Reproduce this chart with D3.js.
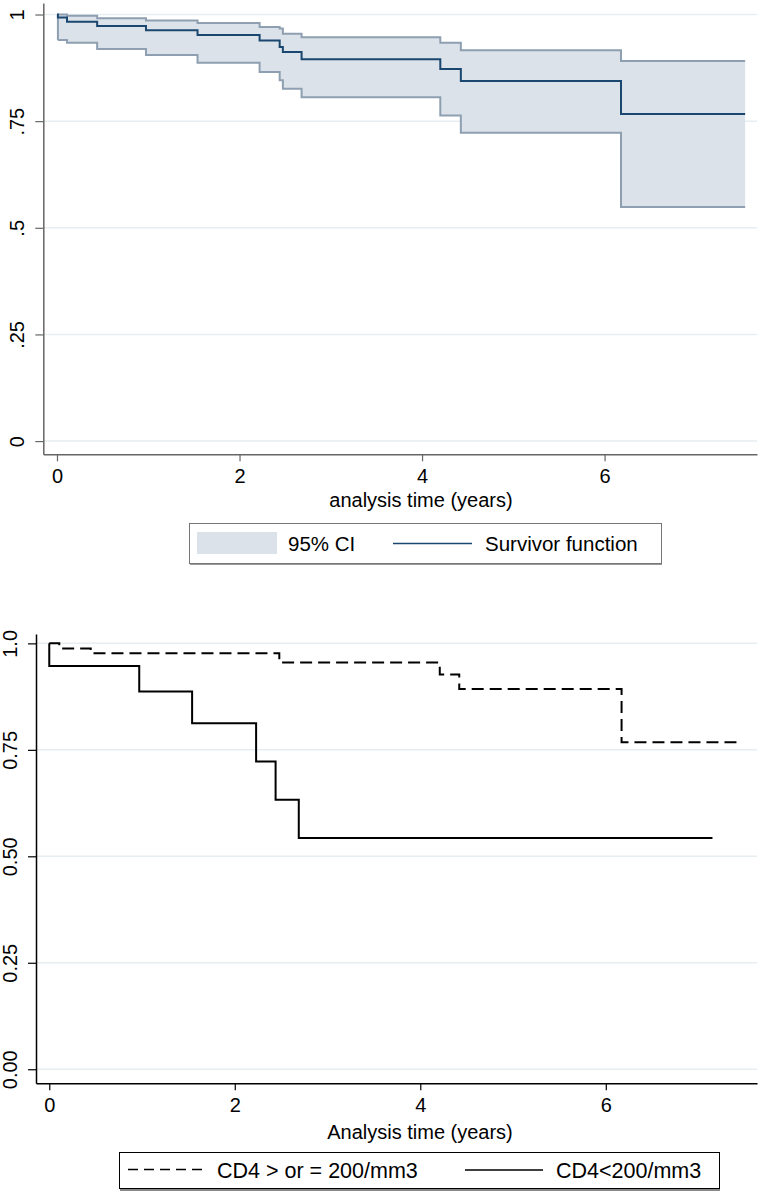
<!DOCTYPE html>
<html>
<head>
<meta charset="utf-8">
<script src="https://cdn.jsdelivr.net/npm/d3@7"></script>
<style>
  html, body { margin: 0; padding: 0; background: #fff; }
  svg { display: block; font-family: "Liberation Sans", Arial, sans-serif; }
</style>
</head>
<body>
<svg id="chart" width="761" height="1193"></svg>
<script>
// ---------- Top chart: overall Kaplan-Meier with 95% CI ----------
const survTimes = [0, 0.01, 0.11, 0.44, 0.975, 1.54, 2.22, 2.44, 2.475, 2.68, 4.20, 4.425, 6.18];
const survValues = [1, 0.993, 0.983, 0.973, 0.963, 0.952, 0.939, 0.924, 0.912, 0.895, 0.872, 0.844, 0.767];
const ciTimes = [0.01, 0.11, 0.44, 0.975, 1.54, 2.22, 2.44, 2.475, 2.68, 4.20, 4.425, 6.18];
const ciUpper = [1.0, 0.997, 0.991, 0.986, 0.980, 0.971, 0.967, 0.955, 0.947, 0.934, 0.916, 0.891];
const ciLower = [0.94, 0.934, 0.919, 0.905, 0.887, 0.865, 0.846, 0.826, 0.806, 0.763, 0.723, 0.549];
const survEnd = 7.54;
const topYTicks = [0, 0.25, 0.5, 0.75, 1];
const topYTickLabels = ["0", ".25", ".5", ".75", "1"];
const xTicks = [0, 2, 4, 6];
const topXTitle = "analysis time (years)";
const topLegend = ["95% CI", "Survivor function"];

// ---------- Bottom chart: by CD4 group ----------
const hiTimes = [0, 0.108, 0.447, 2.48, 4.21, 4.42, 6.17];
const hiValues = [1, 0.988, 0.977, 0.955, 0.927, 0.893, 0.768];
const hiEnd = 7.47;
const loTimes = [0, 0.0, 0.97, 1.54, 2.23, 2.44, 2.69];
const loValues = [1, 0.947, 0.887, 0.8125, 0.7225, 0.633, 0.543];
const loEnd = 7.15;
const botYTicks = [0, 0.25, 0.5, 0.75, 1];
const botYTickLabels = ["0.00", "0.25", "0.50", "0.75", "1.0"];
const botXTitle = "Analysis time (years)";
const botLegend = ["CD4 > or = 200/mm3", "CD4<200/mm3"];

const svg = d3.select("#chart");
const FONT = 20;
const FAM = "Liberation Sans, Arial, sans-serif";

function stepPoints(times, values, end) {
  const pts = times.map((t, i) => [t, values[i]]);
  pts.push([end, values[values.length - 1]]);
  return pts;
}

// ===== TOP =====
(function () {
  const x = d3.scaleLinear().domain([-0.15, 7.67]).range([43.3, 757]);
  const y = d3.scaleLinear().domain([-0.031, 1.027]).range([454.3, 3]);
  const g = svg.append("g");

  g.selectAll("line.grid").data(topYTicks).join("line")
    .attr("x1", x.range()[0]).attr("x2", x.range()[1])
    .attr("y1", d => y(d)).attr("y2", d => y(d))
    .attr("stroke", "#e6eef1").attr("stroke-width", 1.5);

  const band = ciTimes.map((t, i) => ({ t, lo: ciLower[i], hi: ciUpper[i] }));
  band.push({ t: survEnd, lo: ciLower[ciLower.length - 1], hi: ciUpper[ciUpper.length - 1] });
  g.append("path").datum(band)
    .attr("d", d3.area().curve(d3.curveStepAfter).x(d => x(d.t)).y0(d => y(d.lo)).y1(d => y(d.hi)))
    .attr("fill", "#dce2e9").attr("stroke", "none");
  const line = d3.line().curve(d3.curveStepAfter).x(d => x(d[0])).y(d => y(d[1]));
  g.append("path").datum(stepPoints(ciTimes, ciUpper, survEnd)).attr("d", line)
    .attr("fill", "none").attr("stroke", "#8d9fb1").attr("stroke-width", 2);
  g.append("path").datum(stepPoints(ciTimes, ciLower, survEnd)).attr("d", line)
    .attr("fill", "none").attr("stroke", "#8d9fb1").attr("stroke-width", 2);
  g.append("line").attr("x1", x(ciTimes[0])).attr("x2", x(ciTimes[0]))
    .attr("y1", y(ciUpper[0])).attr("y2", y(ciLower[0]))
    .attr("stroke", "#8d9fb1").attr("stroke-width", 2);
  g.append("path").datum(stepPoints(survTimes, survValues, survEnd)).attr("d", line)
    .attr("fill", "none").attr("stroke", "#1a476f").attr("stroke-width", 2);

  const ax = g.append("g").attr("transform", `translate(0,${y.range()[0]})`)
    .call(d3.axisBottom(x).tickValues(xTicks).tickFormat(d3.format("d")).tickSize(7).tickSizeOuter(0).tickPadding(8));
  ax.select(".domain").attr("stroke", "#666").attr("stroke-width", 1.5);
  ax.selectAll(".tick line").attr("stroke", "#666").attr("stroke-width", 1.2);
  ax.selectAll(".tick text").attr("font-size", FONT).attr("fill", "#000").attr("font-family", FAM);

  const ay = g.append("g").attr("transform", `translate(${x.range()[0]},0)`)
    .call(d3.axisLeft(y).tickValues(topYTicks).tickFormat((d, i) => topYTickLabels[i]).tickSize(8).tickSizeOuter(0).tickPadding(6));
  ay.select(".domain").attr("stroke", "#666").attr("stroke-width", 1.5);
  ay.selectAll(".tick line").attr("stroke", "#666").attr("stroke-width", 1.2);
  ay.selectAll(".tick text").attr("font-size", FONT).attr("fill", "#000")
    .attr("font-family", FAM)
    .attr("transform", "rotate(-90)").attr("text-anchor", "middle")
    .attr("x", 0).attr("y", -19).attr("dy", "0");

  g.append("text").attr("x", 421).attr("y", 507).attr("text-anchor", "middle")
    .attr("font-size", FONT).text(topXTitle);

  const L = g.append("g");
  L.append("rect").attr("x", 190).attr("y", 525).attr("width", 472).attr("height", 40).attr("fill", "#999");
  L.append("rect").attr("x", 189.5).attr("y", 523.5).attr("width", 472).attr("height", 40)
    .attr("fill", "#fff").attr("stroke", "#777").attr("stroke-width", 1);
  L.append("rect").attr("x", 197).attr("y", 532).attr("width", 80).attr("height", 22).attr("fill", "#dce2e9");
  L.append("text").attr("x", 288).attr("y", 551).attr("font-size", 20.5).text(topLegend[0]);
  L.append("line").attr("x1", 393).attr("x2", 472).attr("y1", 543.5).attr("y2", 543.5)
    .attr("stroke", "#1a476f").attr("stroke-width", 1.5);
  L.append("text").attr("x", 485).attr("y", 551).attr("font-size", 20.5).text(topLegend[1]);
})();

// ===== BOTTOM =====
(function () {
  const x = d3.scaleLinear().domain([-0.143, 7.63]).range([36, 757]);
  const y = d3.scaleLinear().domain([-0.033, 1.022]).range([1083.3, 634]);
  const g = svg.append("g");

  g.selectAll("line.grid").data(botYTicks).join("line")
    .attr("x1", x.range()[0]).attr("x2", x.range()[1])
    .attr("y1", d => y(d)).attr("y2", d => y(d))
    .attr("stroke", "#e6eef1").attr("stroke-width", 1.5);

  const line = d3.line().curve(d3.curveStepAfter).x(d => x(d[0])).y(d => y(d[1]));
  g.append("path").datum(stepPoints(hiTimes, hiValues, hiEnd)).attr("d", line)
    .attr("fill", "none").attr("stroke", "#000").attr("stroke-width", 2).attr("stroke-dasharray", "12,6");
  g.append("path").datum(stepPoints(loTimes, loValues, loEnd)).attr("d", line)
    .attr("fill", "none").attr("stroke", "#000").attr("stroke-width", 2);

  const ax = g.append("g").attr("transform", `translate(0,${y.range()[0]})`)
    .call(d3.axisBottom(x).tickValues(xTicks).tickFormat(d3.format("d")).tickSize(7).tickSizeOuter(0).tickPadding(8));
  ax.select(".domain").attr("stroke", "#000").attr("stroke-width", 1.5);
  ax.selectAll(".tick line").attr("stroke", "#000").attr("stroke-width", 1.2);
  ax.selectAll(".tick text").attr("font-size", FONT).attr("fill", "#000").attr("font-family", FAM);

  const ay = g.append("g").attr("transform", `translate(${x.range()[0]},0)`)
    .call(d3.axisLeft(y).tickValues(botYTicks).tickFormat((d, i) => botYTickLabels[i]).tickSize(8).tickSizeOuter(0).tickPadding(6));
  ay.select(".domain").attr("stroke", "#000").attr("stroke-width", 1.5);
  ay.selectAll(".tick line").attr("stroke", "#000").attr("stroke-width", 1.2);
  ay.selectAll(".tick text").attr("font-size", FONT).attr("fill", "#000")
    .attr("font-family", FAM)
    .attr("transform", "rotate(-90)").attr("text-anchor", "middle")
    .attr("x", 0).attr("y", -19).attr("dy", "0");

  g.append("text").attr("x", 420).attr("y", 1139).attr("text-anchor", "middle")
    .attr("font-size", FONT).text(botXTitle);

  const L = g.append("g");
  L.append("rect").attr("x", 120).attr("y", 1154).attr("width", 600).attr("height", 37).attr("fill", "#888");
  L.append("rect").attr("x", 119.5).attr("y", 1152.5).attr("width", 600).attr("height", 36)
    .attr("fill", "#fff").attr("stroke", "#000").attr("stroke-width", 1);
  L.append("line").attr("x1", 128).attr("x2", 208).attr("y1", 1169.5).attr("y2", 1169.5)
    .attr("stroke", "#000").attr("stroke-width", 1.5).attr("stroke-dasharray", "10,6");
  L.append("text").attr("x", 217).attr("y", 1177.5).attr("font-size", 21.5).text(botLegend[0]);
  L.append("line").attr("x1", 465).attr("x2", 543).attr("y1", 1170).attr("y2", 1170)
    .attr("stroke", "#000").attr("stroke-width", 1.5);
  L.append("text").attr("x", 556).attr("y", 1177.5).attr("font-size", 21.5).text(botLegend[1]);
})();
</script>
</body>
</html>
